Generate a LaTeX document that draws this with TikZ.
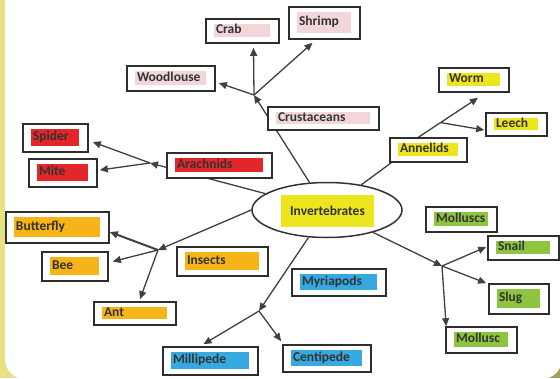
\documentclass[tikz,border=0pt]{standalone}
\usepackage{fontspec}
\setmainfont{Carlito}
\usetikzlibrary{shapes.geometric,fit,calc,arrows.meta}
\pgfdeclarelayer{back}
\pgfdeclarelayer{bg}
\pgfsetlayers{back,bg,main}
\definecolor{cpink}{HTML}{F2D6D9}
\definecolor{cred}{HTML}{E3262A}
\definecolor{cyel}{HTML}{EDE51E}
\definecolor{corange}{HTML}{F6B418}
\definecolor{cblue}{HTML}{36A9E1}
\definecolor{cgreen}{HTML}{8DC540}
\definecolor{edgeyel}{HTML}{E6E283}
\definecolor{edgeolive}{HTML}{A39F5A}
\tikzset{
  box/.style={draw=black!82, line width=1.7pt, fill=white, inner sep=0pt},
  txt/.style={font=\fontsize{13.5}{16}\selectfont\bfseries, text=black!80, inner sep=0pt, anchor=west, text height=9pt, text depth=2.5pt},
  con/.style={draw=black!75, line width=1.3pt},
  arr/.style={con, -{Triangle[length=8pt,width=7pt]}},
}
\newcommand\itm[7]{%
  \node[box, fit={(#2,#3) (#4,#5)}] (#1) {};
  \node[inner sep=0pt, fill=#6, fit={(#2+8,#3+5) (#4-9,#5-6)}] (#1-h) {};
  \node[txt] (#1-t) at ([xshift=2pt]#1-h.west) {#7};
}
\begin{document}
\begin{tikzpicture}[x=1pt,y=-1pt]
\useasboundingbox (0,0) rectangle (560,378);
\begin{pgfonlayer}{back}
  \fill[edgeyel] (0,0) rectangle (560,378);
  \fill[edgeolive] (500,330) rectangle (560,378);
  \fill[white, rounded corners=20pt] (5,-40) rectangle (562,379);
\end{pgfonlayer}

% centre
\node[ellipse, draw=black!80, line width=1.5pt, fill=white, minimum width=150pt, minimum height=55pt] (inv) at (327,210) {};
\node[inner sep=0pt, fill=cyel, fit={(281,195) (374,227)}] (inv-h) {};
\node[font=\fontsize{13.5}{16}\selectfont\bfseries, text=black!80, inner sep=0pt] (inv-t) at (inv-h.center) {Invertebrates};

% crustaceans
\itm{crab}{206}{19}{279}{43}{cpink}{Crab}
\itm{shrimp}{289}{7}{360}{39}{cpink}{Shrimp}
\itm{woodlouse}{127}{66}{215}{91}{cpink}{Woodlouse}
\itm{crust}{268}{107}{379}{130}{cpink}{Crustaceans}
% arachnids
\itm{spider}{23}{124}{88}{152}{cred}{Spider}
\itm{mite}{29}{159}{97}{187}{cred}{Mite}
\itm{arach}{167}{153}{272}{178}{cred}{Arachnids}
% annelids
\itm{worm}{439}{68}{509}{92}{cyel}{Worm}
\itm{leech}{486}{113}{547}{136}{cyel}{Leech}
\itm{annel}{390}{138}{467}{162}{cyel}{Annelids}
% insects
\itm{butterfly}{6}{212}{109}{243}{corange}{Butterfly}
\itm{bee}{42}{252}{108}{281}{corange}{Bee}
\itm{ant}{94}{302}{176}{325}{corange}{Ant}
\itm{insects}{177}{247}{268}{276}{corange}{Insects}
% myriapods
\itm{millipede}{163}{347}{258}{375}{cblue}{Millipede}
\itm{myria}{292}{269}{386}{296}{cblue}{Myriapods}
\itm{centipede}{283}{345}{371}{372}{cblue}{Centipede}
% molluscs
\itm{molluscs}{426}{207}{497}{232}{cgreen}{Molluscs}
\itm{snail}{488}{236}{559}{260}{cgreen}{Snail}
\itm{slug}{489}{284}{549}{314}{cgreen}{Slug}
\itm{mollusc}{446}{327}{517}{353}{cgreen}{Mollusc}

% junctions
\coordinate (jC) at (254,95);
\coordinate (jA) at (150,163);
\coordinate (jI) at (158,250);
\coordinate (jM) at (259,311);
\coordinate (jL) at (442,266);

\begin{pgfonlayer}{bg}
  % crustaceans
  \draw[arr] (inv) -- (jC);
  \draw[arr] (jC) -- ($(woodlouse.east)+(3,4.5)$);
  \draw[arr] (jC) -- ($(crab.south)+(11,4)$);
  \draw[arr] (jC) -- ($(shrimp.south)+(-12,3)$);
  % arachnids
  \draw[arr] (inv) -- (jA);
  \draw[arr] (jA) -- ($(spider.east)+(4,4)$);
  \draw[arr] (jA) -- ($(mite.east)+(2,-3)$);
  % annelids
  \draw[con] (inv) -- ($(annel.south west)+(2,0)$);
  \draw[arr] ([xshift=-10pt]annel.north) -- coordinate[pos=0.37] (jN) ($(worm.south)+(4,5)$);
  \draw[arr] (jN) -- ($(leech.west)+(-1,5.5)$);
  % insects
  \draw[arr] (inv.west) -- (jI);
  \draw[arr, line width=2pt] (jI) -- ($(butterfly.east)+(0,4.5)$);
  \draw[arr] (jI) -- ($(bee.east)+(4,-5)$);
  \draw[arr] (jI) -- ($(ant.north)+(5,-2)$);
  % myriapods
  \draw[arr] (inv) -- (jM);
  \draw[arr] (jM) -- ($(millipede.north)+(-7,-2)$);
  \draw[arr] (jM) -- ($(centipede.north west)+(-1,-3)$);
  % molluscs
  \draw[arr] (inv) -- (jL);
  \draw[arr] (jL) -- ($(snail.west)+(-1,-1)$);
  \draw[arr] (jL) -- ($(slug.north west)+(-2,0)$);
  \draw[arr] (jL) -- ($(mollusc.north west)+(1,0)$);
\end{pgfonlayer}
\end{tikzpicture}
\end{document}
